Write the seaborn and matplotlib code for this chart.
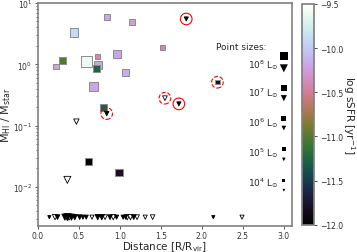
import numpy as np
import pandas as pd
import matplotlib
matplotlib.use("Agg")
import matplotlib.pyplot as plt
import seaborn as sns

# detections: distance, HI fraction, log luminosity, log sSFR
det_x = [0.84, 1.15, 0.44, 0.73, 0.97, 1.52, 0.59, 0.30, 0.22, 0.73, 0.71, 1.07, 0.68, 0.80, 0.62, 0.99, 2.19]
det_y = [5.9, 4.9, 3.3, 1.35, 1.5, 1.88, 1.1, 1.16, 0.93, 0.96, 0.86, 0.74, 0.44, 0.195, 0.026, 0.017, 0.51]
det_logL = [7.0, 7.0, 8.2, 6.5, 8.0, 6.5, 9.1, 7.5, 6.5, 8.0, 7.5, 7.5, 8.4, 7.5, 7.6, 7.6, 5.8]
det_ssfr = [-10.2, -10.25, -9.9, -10.4, -10.2, -10.4, -9.6, -11.0, -10.2, -10.2, -11.25, -10.15, -10.2, -11.3, -12.0, -11.8, -11.8]

# upper limits above the floor
lim_x = [0.47, 0.36, 0.84, 1.55, 1.72, 1.81]
lim_y = [0.116, 0.013, 0.157, 0.28, 0.226, 5.5]
lim_logL = [6.5, 7.5, 5.8, 6.0, 5.5, 5.5]
lim_filled = [False, False, True, False, True, True]

# upper limits at the floor
floor_y = 3.2e-3
floor_x = [0.14, 0.21, 0.24, 0.33, 0.36, 0.38, 0.41, 0.45, 0.51, 0.55, 0.59, 0.66, 0.73, 0.78,
           0.82, 0.88, 0.92, 0.96, 1.04, 1.07, 1.09, 1.13, 1.17, 1.21, 1.31, 1.40, 2.14, 2.49]
floor_logL = [4.5, 6.5, 6.0, 7.0, 7.5, 7.0, 7.0, 6.5, 6.0, 5.5, 5.5, 5.5, 6.5, 6.5,
              6.0, 6.0, 6.5, 5.5, 5.5, 5.5, 6.5, 6.5, 6.0, 6.0, 5.5, 6.0, 4.5, 5.5]
floor_filled = [True, False, True, True, True, False, True, True, True, True, True, False, True, True,
                False, True, False, True, True, True, False, False, True, False, False, False, True, False]

# red circles around special objects
circ_x = [0.84, 1.55, 2.19, 1.81, 1.72]
circ_y = [0.157, 0.28, 0.51, 5.5, 0.226]
circ_dashed = [True, True, True, False, False]

# size legend
leg_logL = [8, 7, 6, 5, 4]
leg_sq_y = [1.35, 0.41, 0.13, 0.041, 0.0128]
leg_tri_y = [0.86, 0.28, 0.091, 0.028, 0.0088]
leg_txt_y = [1.0, 0.35, 0.113, 0.037, 0.0119]

vmin, vmax = -12.0, -9.5


def msize(logL):
    return 4 * 1.7 ** (np.asarray(logL) - 4)


sns.set_theme(style="ticks")
plt.rcParams['font.family'] = ['DejaVu Sans']

fig = plt.figure(figsize=(3.57, 2.53), dpi=100)
ax = fig.add_axes([0.106, 0.103, 0.712, 0.881])
cax = fig.add_axes([0.846, 0.107, 0.034, 0.874])

cmap = plt.get_cmap("cubehelix")
norm = plt.Normalize(vmin, vmax)

det = pd.DataFrame({"x": det_x, "y": det_y, "ssfr": det_ssfr, "s": msize(det_logL)})
sns.scatterplot(data=det, x="x", y="y", hue="ssfr", palette=cmap, hue_norm=norm,
                s=det["s"], marker="s", edgecolor="0.55", linewidth=0.7,
                legend=False, ax=ax, zorder=3)

lim = pd.DataFrame({"x": lim_x + floor_x,
                    "y": lim_y + [floor_y] * len(floor_x),
                    "s": msize(lim_logL + floor_logL),
                    "filled": lim_filled + floor_filled})
for filled, grp in lim.groupby("filled"):
    ax.scatter(grp["x"], grp["y"], s=grp["s"], marker="v",
               facecolor="black" if filled else "white", edgecolor="black",
               linewidth=0.6, zorder=4)

for cx, cy, dashed in zip(circ_x, circ_y, circ_dashed):
    ax.scatter(cx, cy, s=70, marker="o", facecolor="none", edgecolor="red",
               linewidth=0.8, linestyle="--" if dashed else "-", zorder=5)

# size legend drawn inside the axes
ax.scatter([3.0] * 5, leg_sq_y, s=msize(leg_logL), marker="s", color="black", linewidth=0, zorder=4)
ax.scatter([3.0] * 5, leg_tri_y, s=msize(leg_logL), marker="v", color="black", linewidth=0, zorder=4)
for p, ty in zip(leg_logL, leg_txt_y):
    ax.text(2.94, ty, r"10$^{%d}$ L$_{\odot}$" % p, ha="right", va="center", fontsize=6.5)
ax.text(2.79, 1.95, "Point sizes:", ha="right", va="center", fontsize=6.5)

ax.set_yscale("log")
ax.set_xlim(0, 3.1)
ax.set_ylim(2.3e-3, 10)
ax.set_xticks([0.0, 0.5, 1.0, 1.5, 2.0, 2.5, 3.0])
ax.set_xlabel(r"Distance [R/R$_{\rm vir}$]", fontsize=7.5, labelpad=-1)
ax.set_ylabel(r"M$_{\rm HI}$ / M$_{\rm star}$", fontsize=8, labelpad=0)
ax.tick_params(labelsize=5.5, colors="0.2", length=2.5, width=0.6, pad=1.5)
ax.tick_params(which="minor", length=1.5, width=0.5)
for sp in ax.spines.values():
    sp.set_visible(True)
    sp.set_color("0.5")
    sp.set_linewidth(1.2)

sm = plt.cm.ScalarMappable(cmap=cmap, norm=norm)
cb = fig.colorbar(sm, cax=cax, ticks=[-12.0, -11.5, -11.0, -10.5, -10.0, -9.5])
cb.ax.tick_params(labelsize=5.5, length=2.5, width=0.6, pad=1.5)
cb.outline.set_edgecolor("0.5")
cb.set_label(r"log sSFR [yr$^{-1}$]", rotation=270, fontsize=7.5, labelpad=10)

fig.savefig("out.png", dpi=100)
